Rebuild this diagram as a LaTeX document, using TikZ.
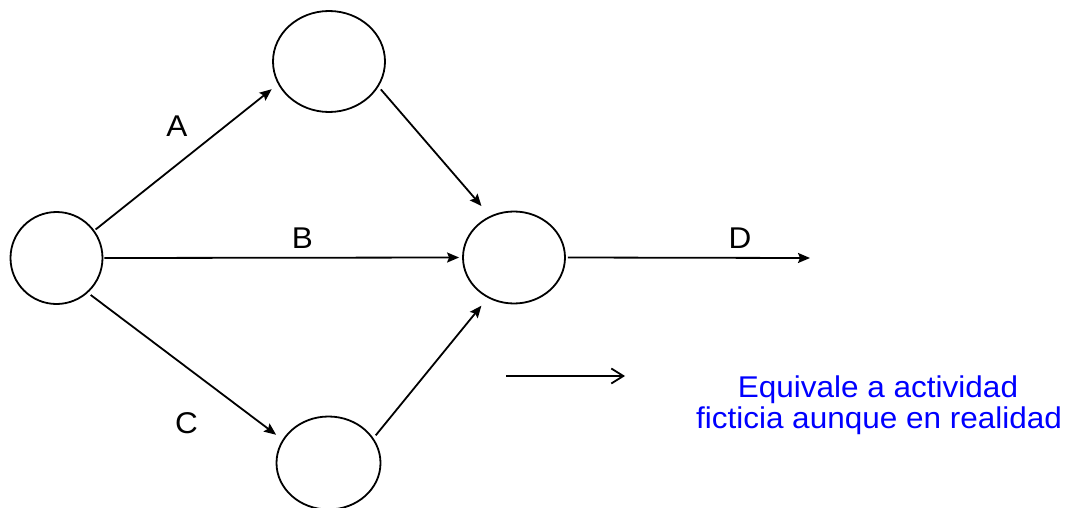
\documentclass[tikz,border=0pt]{standalone}
\usepackage{fontspec}
\setmainfont{Liberation Sans}[FakeStretch=1.05]
\usetikzlibrary{shapes.geometric,arrows.meta}
\begin{document}
\begin{tikzpicture}[x=1pt,y=-1pt,
  ev/.style={draw, ellipse, line width=1.8pt, inner sep=0pt},
  act/.style={line width=1.8pt, -{Stealth[length=12pt,width=10pt,inset=2pt]}},
  lbl/.style={font=\fontsize{30}{34}\selectfont, anchor=base, inner sep=0pt},
  note/.style={font=\fontsize{30}{34}\selectfont, anchor=base, inner sep=0pt, text=blue}]
\useasboundingbox (0,0) rectangle (1078,508);
\node[ev, minimum width=92pt, minimum height=92pt] (L) at (56.5,258) {};
\node[ev, minimum width=112pt, minimum height=101pt] (T) at (329,61.5) {};
\node[ev, minimum width=102pt, minimum height=92pt] (M) at (514,257.5) {};
\node[ev, minimum width=104pt, minimum height=93pt] (Bt) at (328.5,463) {};
\coordinate (Dend) at (810,258);
\coordinate (legS) at (506,376);
\coordinate (legE) at (625,376);
\draw[act, shorten <=1.5pt, shorten >=8pt] (L.36) -- (T.204);
\draw[act, shorten <=1pt, shorten >=3pt] (L.0) -- (M.180);
\draw[act, shorten <=3.5pt, shorten >=8pt] (L.-48.6) -- (Bt.153.6);
\draw[act, shorten <=3.5pt, shorten >=13pt] (T.-27.4) -- (M.120.3);
\draw[act, shorten <=3.5pt, shorten >=10pt] (Bt.29.6) -- (M.237.4);
\draw[act, shorten <=2pt] (M.0) -- (Dend);
\draw[line width=1.8pt, -{Straight Barb[length=12pt,width=15pt,line width=1.8pt]}] (legS) -- (legE);
\node[lbl] (la) at (177,136) {A};
\node[lbl] (lb) at (302.5,248) {B};
\node[lbl] (lc) at (186.5,433) {C};
\node[lbl] (ld) at (740,248) {D};
\node[note] (n1) at (878,397) {Equivale a actividad};
\node[note] (n2) at (879,428) {ficticia aunque en realidad};
\end{tikzpicture}
\end{document}
